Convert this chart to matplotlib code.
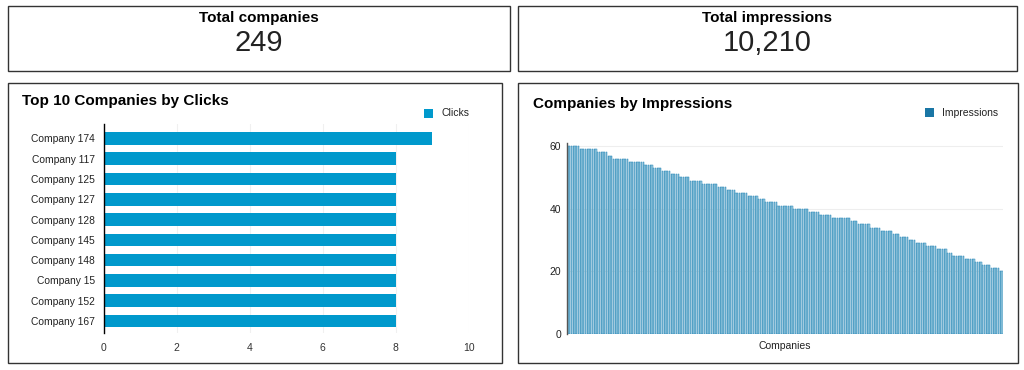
import numpy as np
import matplotlib
matplotlib.use("Agg")
import matplotlib.pyplot as plt
from matplotlib.patches import Rectangle

plt.rcParams['font.family'] = ['Liberation Sans', 'DejaVu Sans']

# KPI data
kpi_titles = ["Total companies", "Total impressions"]
kpi_values = ["249", "10,210"]

# Top 10 companies by clicks
click_companies = ["Company 174", "Company 117", "Company 125", "Company 127", "Company 128",
                   "Company 145", "Company 148", "Company 15", "Company 152", "Company 167"]
click_values = [9, 8, 8, 8, 8, 8, 8, 8, 8, 8]
click_ticks = [0, 2, 4, 6, 8, 10]

# Companies by impressions (sorted, run-length)
impression_levels = [60, 59, 58, 57, 56, 55, 54, 53, 52, 51, 50, 49, 48, 47, 46, 45, 44, 43, 42, 41,
                     40, 39, 38, 37, 36, 35, 34, 33, 32, 31, 30, 29, 28, 27, 26, 25, 24, 23, 22, 21, 20]
level_counts = [7, 10, 6, 3, 9, 9, 5, 5, 5, 5, 6, 7, 9, 5, 5, 7, 6, 4, 7, 9,
                9, 6, 7, 11, 4, 7, 6, 7, 4, 5, 4, 6, 6, 6, 3, 7, 6, 4, 5, 5, 2]
impressions = np.repeat(impression_levels, level_counts)
impression_ticks = [0, 20, 40, 60]

W, H = 1024, 370
fig = plt.figure(figsize=(W / 100, H / 100), dpi=100)


def fx(x):
    return x / W


def fy(y):
    return 1 - y / H


def box(x0, y0, x1, y1):
    fig.patches.append(Rectangle((fx(x0), fy(y1)), fx(x1) - fx(x0), fy(y0) - fy(y1),
                                 transform=fig.transFigure, fill=False,
                                 edgecolor='#333333', linewidth=1.0))


def axes_px(x0, y0, x1, y1):
    return fig.add_axes([fx(x0), fy(y1), fx(x1) - fx(x0), fy(y0) - fy(y1)])


# Panels
box(8, 6, 510, 71)
box(518, 6, 1017, 71)
box(8, 83, 502, 363)
box(518, 83, 1018, 363)

# KPI texts
for cx, t, v in zip([259, 767], kpi_titles, kpi_values):
    fig.text(fx(cx), fy(18), t, ha='center', va='center', fontsize=11, fontweight='bold', color='black')
    fig.text(fx(cx), fy(43), v, ha='center', va='center', fontsize=21, color='#222222')

# Left chart
ax1 = axes_px(103.5, 124, 469, 333)
ypos = np.arange(len(click_companies))
ax1.barh(ypos, click_values, height=0.62, color='#0099CC')
ax1.set_yticks(ypos)
ax1.set_yticklabels(click_companies, fontsize=7.4, color='#222222')
ax1.set_ylim(9.59, -0.71)
ax1.set_xlim(0, 10)
ax1.set_xticks(click_ticks)
ax1.set_xticklabels([str(t) for t in click_ticks], fontsize=7.5, color='#333333')
ax1.tick_params(length=0, pad=7)
ax1.tick_params(axis='y', pad=6)
ax1.grid(axis='x', color='#f0f0f0', linewidth=0.8)
ax1.set_axisbelow(True)
for s in ['top', 'right', 'bottom']:
    ax1.spines[s].set_visible(False)
ax1.spines['left'].set_color('black')
ax1.spines['left'].set_linewidth(1.0)
fig.text(fx(22), fy(101), "Top 10 Companies by Clicks", ha='left', va='center',
         fontsize=11, fontweight='bold', color='black')
fig.patches.append(Rectangle((fx(424), fy(118)), fx(9), 9 / H, transform=fig.transFigure,
                             facecolor='#0099CC', edgecolor='none'))
fig.text(fx(441), fy(113.5), "Clicks", ha='left', va='center', fontsize=7.5, color='#222222')

# Right chart
ax2 = axes_px(567, 143, 1003, 334)
xpos = np.arange(len(impressions))
ax2.bar(xpos, impressions, width=0.8, facecolor='#9ccbe0', edgecolor='#2686b6', linewidth=0.35)
ax2.set_xlim(-0.6, len(impressions) - 0.4)
ax2.set_ylim(0, 61)
ax2.set_yticks(impression_ticks)
ax2.set_yticklabels([str(t) for t in impression_ticks], fontsize=7.5, color='#222222')
ax2.set_xticks([])
ax2.tick_params(length=0, pad=4)
ax2.grid(axis='y', color='#eeeeee', linewidth=0.8)
ax2.set_axisbelow(True)
for s in ['top', 'right', 'bottom']:
    ax2.spines[s].set_visible(False)
ax2.spines['left'].set_color('#555555')
ax2.spines['left'].set_linewidth(1.0)
ax2.set_xlabel("Companies", fontsize=7.5, color='#222222', labelpad=5)
fig.text(fx(533), fy(104), "Companies by Impressions", ha='left', va='center',
         fontsize=11, fontweight='bold', color='black')
fig.patches.append(Rectangle((fx(925), fy(117)), fx(9), 9 / H, transform=fig.transFigure,
                             facecolor='#1a76a5', edgecolor='none'))
fig.text(fx(942), fy(112.5), "Impressions", ha='left', va='center', fontsize=7.5, color='#222222')

fig.savefig("out.png", dpi=100, facecolor='white')
